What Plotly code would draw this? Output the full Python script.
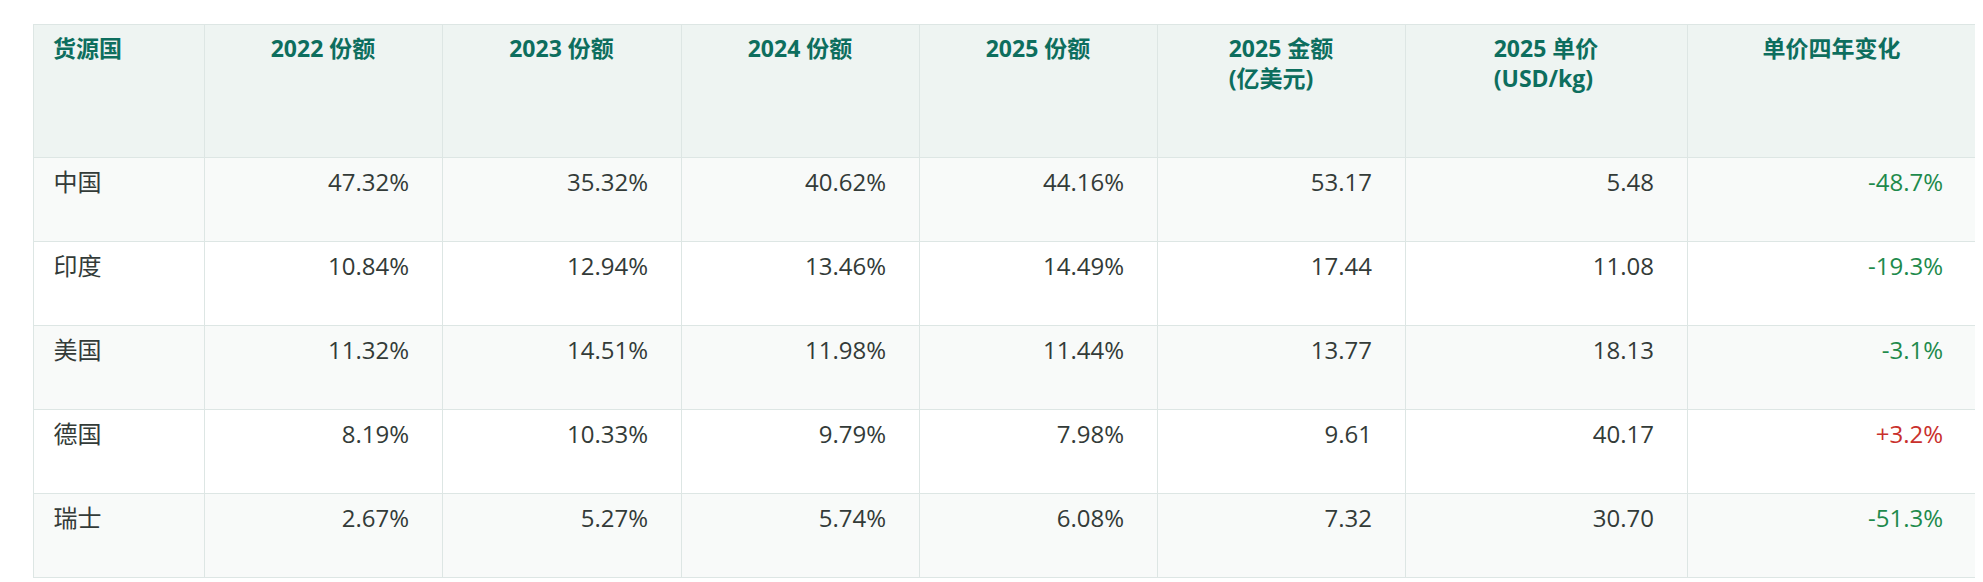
import plotly.graph_objects as go

headers = ["货源国", "2022 份额", "2023 份额", "2024 份额", "2025 份额",
           "2025 金额<br>(亿美元)", "2025 单价<br>(USD/kg)", "单价四年变化"]
countries = ["中国", "印度", "美国", "德国", "瑞士"]
share_2022 = ["47.32%", "10.84%", "11.32%", "8.19%", "2.67%"]
share_2023 = ["35.32%", "12.94%", "14.51%", "10.33%", "5.27%"]
share_2024 = ["40.62%", "13.46%", "11.98%", "9.79%", "5.74%"]
share_2025 = ["44.16%", "14.49%", "11.44%", "7.98%", "6.08%"]
amount_2025 = ["53.17", "17.44", "13.77", "9.61", "7.32"]
price_2025 = ["5.48", "11.08", "18.13", "40.17", "30.70"]
price_change = ["-48.7%", "-19.3%", "-3.1%", "+3.2%", "-51.3%"]

pad = "    "
columns = [countries, share_2022, share_2023, share_2024, share_2025,
           amount_2025, price_2025, price_change]
# small leading line pushes the text down so it sits near the middle of the row
columns = [["<br><span style='font-size:24px'>" + (("  " + v) if i == 0 else (v + pad)) + "</span>"
            for v in col] for i, col in enumerate(columns)]

head_vals = []
for i, h in enumerate(headers):
    h = ("  " + h) if i == 0 else h
    if "<br>" not in h:
        h = "<br>" + h
    head_vals.append("<b>" + h + "</b>")

text_col = "#333b38"
change_colors = ["#c9302c" if v.startswith("+") else "#1e8a4c" for v in price_change]
font_colors = [[text_col] * 5] * 7 + [change_colors]
row_fill = ["#f8faf9", "#ffffff", "#f8faf9", "#ffffff", "#f8faf9"]

fig = go.Figure(go.Table(
    columnwidth=[171, 238, 239, 238, 238, 248, 282, 289],
    header=dict(
        values=head_vals,
        fill_color="#eef4f2",
        line_color="#dde6e4",
        align=["left"] + ["center"] * 7,
        font=dict(family="Open Sans, Noto Sans CJK SC", size=23, color="#0d6e5e"),
        height=133,
    ),
    cells=dict(
        values=columns,
        fill_color=[row_fill] * 8,
        line_color="#dde6e4",
        align=["left"] + ["right"] * 7,
        font=dict(family="Open Sans, Noto Sans CJK SC", size=14, color=font_colors),
        height=84,
    ),
))
fig.update_layout(
    width=1983, height=582,
    margin=dict(l=25, r=15, t=16, b=0),
    paper_bgcolor="white",
)
fig.write_html("out.html")
